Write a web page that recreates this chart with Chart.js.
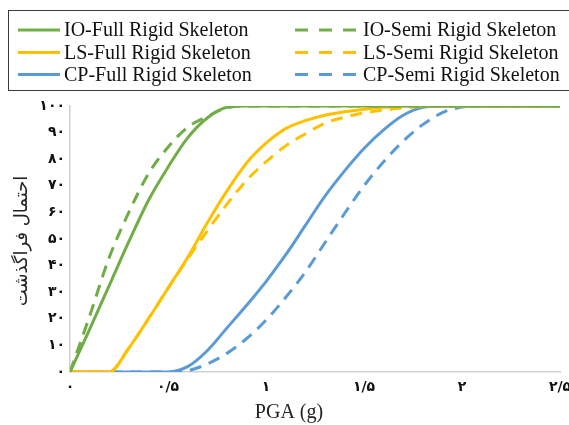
<!DOCTYPE html>
<html>
<head>
<meta charset="utf-8">
<script src="https://cdn.jsdelivr.net/npm/chart.js"></script>
<style>
  body { margin: 0; background: #fff; }
  canvas { display: block; }
</style>
</head>
<body>
<canvas id="myChart" width="569" height="425"></canvas>
<script>
// PGA values (g) shared by every curve
const pga = [0, 0.1, 0.2, 0.3, 0.4, 0.5, 0.6, 0.7, 0.8, 0.9, 1.0, 1.1, 1.2,
  1.3, 1.4, 1.5, 1.6, 1.7, 1.8, 1.9, 2.0, 2.1, 2.2, 2.3, 2.4, 2.5];

// probability of exceedance (%)
const ioFull = [0, 16, 32.5, 49, 64.5, 77, 88, 95.5, 99.5, 100, 100, 100, 100,
  100, 100, 100, 100, 100, 100, 100, 100, 100, 100, 100, 100, 100];
const ioSemi = [0, 21, 43, 60, 74.5, 84.5, 92, 96, 99.3, 100, 100, 100, 100,
  100, 100, 100, 100, 100, 100, 100, 100, 100, 100, 100, 100, 100];
const lsFull = [0, 0, 0, 9, 20, 31.5, 43, 56, 68, 78.5, 86, 91.5, 94.5,
  96.5, 97.8, 98.8, 99.5, 100, 100, 100, 100, 100, 100, 100, 100, 100];
const lsSemi = [0, 0, 0, 9, 20, 31.5, 42.5, 53, 63, 72, 79, 85, 89.5,
  93.5, 95.8, 97.4, 98.5, 99.3, 99.8, 100, 100, 100, 100, 100, 100, 100];
const cpFull = [0, 0, 0, 0, 0, 0, 2, 8, 16.5, 25, 34, 44, 55,
  66, 75.5, 84, 91, 96.5, 99.5, 100, 100, 100, 100, 100, 100, 100];
const cpSemi = [0, 0, 0, 0, 0, 0, 0.5, 3, 7, 12.5, 19.5, 28, 37.5,
  48.5, 59.5, 70, 79, 86.8, 93, 97.5, 99.6, 100, 100, 100, 100, 100];

const seriesNames = ['IO-Full Rigid Skeleton', 'IO-Semi Rigid Skeleton',
  'LS-Full Rigid Skeleton', 'LS-Semi Rigid Skeleton',
  'CP-Full Rigid Skeleton', 'CP-Semi Rigid Skeleton'];

const xTickLabels = ['۰', '۰/۵', '۱', '۱/۵', '۲', '۲/۵'];
const yTickLabels = ['۰', '۱۰', '۲۰', '۳۰', '۴۰', '۵۰', '۶۰', '۷۰', '۸۰', '۹۰', '۱۰۰'];
const xTitle = 'PGA (g)';
const yTitle = 'احتمال فراگذشت';

const GREEN = '#70AD47', YELLOW = '#FFC000', BLUE = '#5B9BD5';
const DASH = [12, 8];

function makeSet(label, values, color, dashed) {
  return {
    label: label,
    data: pga.map((x, i) => ({ x: x, y: values[i] })),
    borderColor: color,
    backgroundColor: color,
    borderWidth: 3,
    borderDash: dashed ? DASH : [],
    pointRadius: 0,
    cubicInterpolationMode: 'monotone',
    fill: false
  };
}

// draws the boxed two-column legend and both axis titles
const decorations = {
  id: 'decorations',
  afterDraw(chart) {
    const ctx = chart.ctx;
    ctx.save();
    ctx.strokeStyle = '#3a3a3a';
    ctx.lineWidth = 1;
    ctx.strokeRect(8.5, 10.5, 600, 80);

    const rows = [30, 52.5, 74.5];
    const cols = [{ x0: 18, x1: 60, tx: 64 }, { x0: 295, x1: 356, tx: 363 }];
    ctx.font = '20px "Liberation Serif"';
    ctx.textBaseline = 'middle';
    ctx.textAlign = 'left';
    chart.data.datasets.forEach((ds, i) => {
      const r = rows[Math.floor(i / 2)];
      const c = cols[i % 2];
      ctx.strokeStyle = ds.borderColor;
      ctx.lineWidth = 3;
      ctx.setLineDash(ds.borderDash.length ? [13, 11] : []);
      ctx.beginPath();
      ctx.moveTo(c.x0, r);
      ctx.lineTo(c.x1, r);
      ctx.stroke();
      ctx.setLineDash([]);
      ctx.fillStyle = '#111';
      ctx.fillText(ds.label, c.tx, r + 1);
    });

    ctx.fillStyle = '#222';
    ctx.textAlign = 'center';
    ctx.font = '20px "Liberation Serif"';
    ctx.fillText(xTitle, 289, 413);

    ctx.translate(22, 241);
    ctx.rotate(-Math.PI / 2);
    ctx.font = '18px "DejaVu Sans"';
    ctx.fillText(yTitle, 0, 0);
    ctx.restore();
  }
};

const ctx = document.getElementById('myChart').getContext('2d');
const myChart = new Chart(ctx, {
  type: 'line',
  data: {
    datasets: [
      makeSet(seriesNames[0], ioFull, GREEN, false),
      makeSet(seriesNames[1], ioSemi, GREEN, true),
      makeSet(seriesNames[2], lsFull, YELLOW, false),
      makeSet(seriesNames[3], lsSemi, YELLOW, true),
      makeSet(seriesNames[4], cpFull, BLUE, false),
      makeSet(seriesNames[5], cpSemi, BLUE, true)
    ]
  },
  options: {
    responsive: false,
    animation: false,
    devicePixelRatio: 1,
    layout: { padding: { top: 106, right: 9, left: 0, bottom: 0 } },
    plugins: {
      legend: { display: false },
      tooltip: { enabled: false }
    },
    scales: {
      x: {
        type: 'linear',
        min: 0,
        max: 2.5,
        afterFit: (s) => { s.height = 53; s.paddingLeft = 0; s.paddingRight = 0; },
        afterBuildTicks: (s) => { s.ticks = xTickLabels.map((t, i) => ({ value: i * 0.5 })); },
        grid: { display: false, drawTicks: false },
        border: { display: true, color: '#D0D0D0', width: 1.5 },
        ticks: {
          padding: 7,
          maxRotation: 0,
          autoSkip: false,
          color: '#111',
          font: { family: 'DejaVu Sans', size: 14, weight: 'bold' },
          callback: (v, i) => xTickLabels[i]
        }
      },
      y: {
        min: 0,
        max: 100,
        afterFit: (s) => { s.width = 70; },
        grid: { display: false, drawTicks: false },
        border: { display: true, color: '#D0D0D0', width: 1.5 },
        ticks: {
          stepSize: 10,
          padding: 5,
          color: '#111',
          font: { family: 'DejaVu Sans', size: 14, weight: 'bold' },
          callback: (v, i) => yTickLabels[i]
        }
      }
    }
  },
  plugins: [decorations]
});
</script>
</body>
</html>
